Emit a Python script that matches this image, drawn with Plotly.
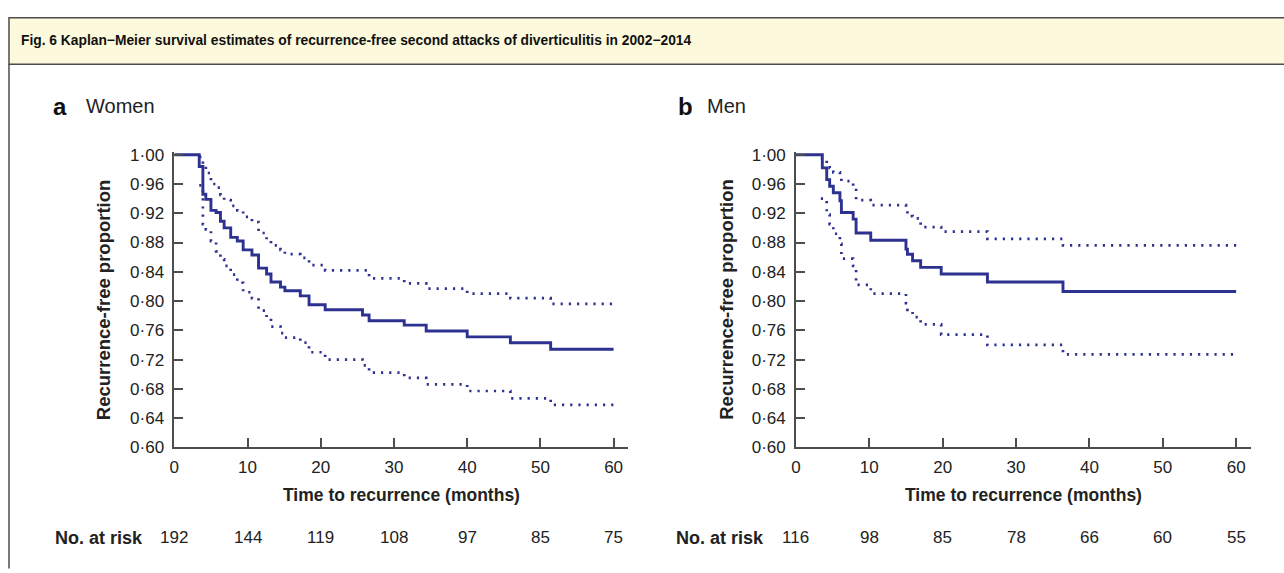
import plotly.graph_objects as go

W, H = 1284, 573

# ---------------- data ----------------
women_t = [0, 3.4, 3.9, 4.3, 5.0, 5.7, 6.3, 6.8, 7.7, 8.6, 9.4, 10.6, 11.5, 12.6, 13.2,
           14.5, 15.1, 17.2, 18.4, 20.6, 25.7, 26.6, 31.4, 34.4, 40.0, 45.9, 51.4, 60]
women_s = [1.0, 0.984, 0.946, 0.939, 0.924, 0.921, 0.909, 0.900, 0.887, 0.882, 0.870, 0.863,
           0.845, 0.837, 0.826, 0.819, 0.814, 0.807, 0.795, 0.788, 0.781, 0.773, 0.767, 0.759,
           0.751, 0.743, 0.734, 0.734]
women_ci_t = [3.4, 3.9, 4.3, 5.0, 5.7, 6.3, 6.8, 7.7, 8.6, 9.4, 10.6, 11.5, 12.6, 13.2,
              14.5, 15.1, 17.2, 18.4, 20.6, 25.7, 26.6, 31.4, 34.4, 40.0, 45.9, 51.4, 60]
women_upper = [0.997, 0.985, 0.975, 0.960, 0.955, 0.945, 0.938, 0.930, 0.924, 0.915, 0.908,
               0.893, 0.884, 0.876, 0.870, 0.864, 0.859, 0.849, 0.842, 0.842, 0.831, 0.824,
               0.817, 0.810, 0.804, 0.796, 0.796]
women_lower = [0.958, 0.905, 0.898, 0.882, 0.868, 0.857, 0.848, 0.836, 0.825, 0.812, 0.804,
               0.787, 0.776, 0.765, 0.756, 0.750, 0.743, 0.730, 0.720, 0.712, 0.702, 0.695,
               0.686, 0.677, 0.667, 0.658, 0.658]

men_t = [0, 3.6, 4.2, 4.6, 5.1, 6.0, 6.2, 7.8, 8.2, 10.2, 15.0, 15.2, 15.9, 17.0, 19.8,
         26.1, 36.4, 60]
men_s = [1.0, 0.982, 0.966, 0.957, 0.948, 0.937, 0.921, 0.912, 0.893, 0.883, 0.871, 0.864,
         0.855, 0.846, 0.837, 0.826, 0.813, 0.813]
men_ci_t = [3.4, 4.2, 4.6, 5.1, 6.0, 6.2, 7.8, 8.2, 10.2, 15.0, 15.2, 15.9, 17.0, 19.8,
            26.1, 36.4, 60]
men_upper = [0.995, 0.988, 0.982, 0.976, 0.970, 0.964, 0.956, 0.938, 0.931, 0.925, 0.916,
             0.913, 0.901, 0.895, 0.885, 0.876, 0.876]
men_lower = [0.940, 0.918, 0.905, 0.892, 0.878, 0.858, 0.848, 0.822, 0.810, 0.797, 0.788,
             0.778, 0.768, 0.754, 0.740, 0.727, 0.727]

risk_times = [0, 10, 20, 30, 40, 50, 60]
women_risk = [192, 144, 119, 108, 97, 85, 75]
men_risk = [116, 98, 85, 78, 66, 60, 55]

y_ticks = [0.60, 0.64, 0.68, 0.72, 0.76, 0.80, 0.84, 0.88, 0.92, 0.96, 1.00]
y_tick_text = ["0·60", "0·64", "0·68", "0·72", "0·76", "0·80", "0·84", "0·88", "0·92", "0·96", "1·00"]
x_ticks = [0, 10, 20, 30, 40, 50, 60]

title_text = "Fig. 6 Kaplan\u2212Meier survival estimates of recurrence-free second attacks of diverticulitis in 2002\u22122014"

# ---------------- style ----------------
BLUE = "#2d3190"
AXIS = "#4d4d4d"
TXT = "#222222"
FONT = "Liberation Sans, Arial, sans-serif"

fig = go.Figure()

def add_panel(t, s, ct, up, lo, xa, ya):
    for yy in (up, lo):
        fig.add_trace(go.Scatter(x=ct, y=yy, mode="lines", line_shape="hv",
                                 line=dict(color=BLUE, width=2.7, dash="2.2px,6px"),
                                 xaxis=xa, yaxis=ya, showlegend=False, hoverinfo="skip"))
    fig.add_trace(go.Scatter(x=t, y=s, mode="lines", line_shape="hv",
                             line=dict(color=BLUE, width=2.9),
                             xaxis=xa, yaxis=ya, showlegend=False, hoverinfo="skip"))

add_panel(women_t, women_s, women_ci_t, women_upper, women_lower, "x", "y")
add_panel(men_t, men_s, men_ci_t, men_upper, men_lower, "x2", "y2")

def px_x(p):
    return p / W

def px_y(p):
    return (H - p) / H

ydom = [px_y(454), px_y(150)]
xa_dom = [px_x(170), px_x(625.7)]
xb_dom = [px_x(794), px_x(1250.7)]

xaxis_common = dict(range=[0, 62], tickvals=x_ticks, ticks="inside", ticklen=10,
                    tickwidth=1.5, tickcolor=AXIS, showline=True, linecolor=AXIS,
                    linewidth=1.6, showgrid=False, zeroline=False,
                    tickfont=dict(family=FONT, size=17, color=TXT),
                    ticklabelstandoff=3)
yaxis_common = dict(range=[0.6, 1.004], tickvals=y_ticks, ticktext=y_tick_text,
                    ticks="inside", ticklen=9, tickwidth=1.5, tickcolor=AXIS,
                    showline=True, linecolor=AXIS, linewidth=1.6, showgrid=False,
                    zeroline=False, tickfont=dict(family=FONT, size=17, color=TXT),
                    ticklabelstandoff=5)

fig.update_layout(
    width=W, height=H, margin=dict(l=0, r=0, t=0, b=0),
    paper_bgcolor="white", plot_bgcolor="white",
    xaxis=dict(domain=xa_dom, anchor="y", **xaxis_common),
    yaxis=dict(domain=ydom, anchor="x", **yaxis_common),
    xaxis2=dict(domain=xb_dom, anchor="y2", **xaxis_common),
    yaxis2=dict(domain=ydom, anchor="x2", **yaxis_common),
)

shapes = [
    dict(type="rect", xref="paper", yref="paper", x0=px_x(4), x1=1.02,
         y0=px_y(60), y1=px_y(12), fillcolor="#fdf9dc", line=dict(color=AXIS, width=1.5),
         layer="below"),
    dict(type="line", xref="paper", yref="paper", x0=px_x(4), x1=px_x(4),
         y0=px_y(60), y1=-0.01, line=dict(color=AXIS, width=1.5)),
]

ann = []
ann.append(dict(text="<b>" + title_text + "</b>", xref="paper", yref="paper",
                x=px_x(14), y=px_y(36), xanchor="left", yanchor="middle", showarrow=False,
                font=dict(family="Liberation Sans Narrow, " + FONT, size=13.8, color="#111")))

for lab, name, xl, xn in [("a", "Women", 46, 79), ("b", "Men", 674, 703)]:
    ann.append(dict(text="<b>" + lab + "</b>", xref="paper", yref="paper", x=px_x(xl),
                    y=px_y(103), xanchor="left", yanchor="middle", showarrow=False,
                    font=dict(family=FONT, size=24, color="#111")))
    ann.append(dict(text=name, xref="paper", yref="paper", x=px_x(xn), y=px_y(103),
                    xanchor="left", yanchor="middle", showarrow=False,
                    font=dict(family=FONT, size=20, color=TXT)))

for xc in (99, 724):
    ann.append(dict(text="<b>Recurrence-free proportion</b>", xref="paper", yref="paper",
                    x=px_x(xc), y=px_y(302), xanchor="center", yanchor="middle",
                    textangle=-90, showarrow=False,
                    font=dict(family=FONT, size=18.5, color=TXT)))

for xr in ("x", "x2"):
    ann.append(dict(text="<b>Time to recurrence (months)</b>", xref=xr + " domain",
                    yref="paper", x=0.5, y=px_y(503), xanchor="center", yanchor="middle",
                    showarrow=False, font=dict(family=FONT, size=17.5, color=TXT)))

for xr, xl, risks in (("x", 48, women_risk), ("x2", 672, men_risk)):
    ann.append(dict(text="<b>No. at risk</b>", xref="paper", yref="paper", x=px_x(xl),
                    y=px_y(547), xanchor="left", yanchor="middle", showarrow=False,
                    font=dict(family=FONT, size=18, color=TXT)))
    for tt, rr in zip(risk_times, risks):
        ann.append(dict(text=str(rr), xref=xr, yref="paper", x=tt, y=px_y(547),
                        xanchor="center", yanchor="middle", showarrow=False,
                        font=dict(family=FONT, size=17, color=TXT)))

fig.update_layout(shapes=shapes, annotations=ann)
fig.write_html("out.html")
